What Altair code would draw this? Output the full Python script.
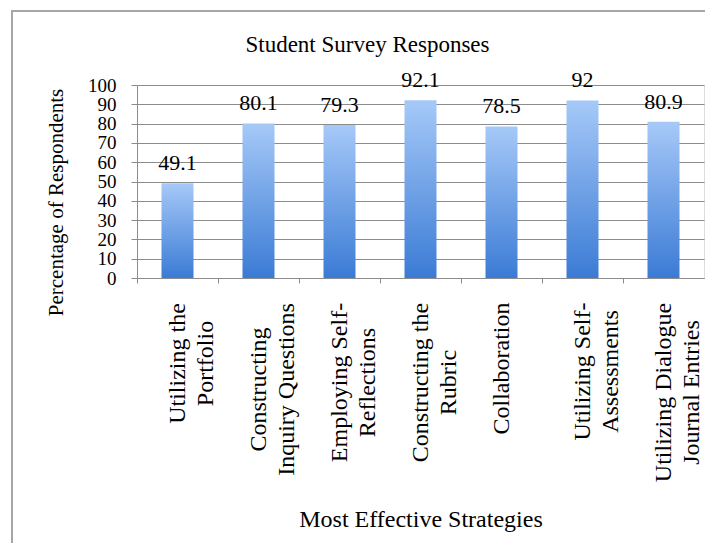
import json
import altair as alt
import pandas as pd

# ---- data ----
strategies = [
    "Utilizing the Portfolio",
    "Constructing Inquiry Questions",
    "Employing Self-Reflections",
    "Constructing the Rubric",
    "Collaboration",
    "Utilizing Self-Assessments",
    "Utilizing Dialogue Journal Entries",
]
label_lines = [
    ["Utilizing the", "Portfolio"],
    ["Constructing", "Inquiry Questions"],
    ["Employing Self-", "Reflections"],
    ["Constructing the", "Rubric"],
    ["Collaboration"],
    ["Utilizing Self-", "Assessments"],
    ["Utilizing Dialogue", "Journal Entries"],
]
percentages = [49.1, 80.1, 79.3, 92.1, 78.5, 92.0, 80.9]
value_labels = ["49.1", "80.1", "79.3", "92.1", "78.5", "92", "80.9"]
y_ticks = [0, 10, 20, 30, 40, 50, 60, 70, 80, 90, 100]

# ---- styling ----
FONT = "Liberation Serif"
GRAY = "#8c8c8c"
# per-label padding so that every rotated label block starts at the same distance
# below the axis while its lines stay centred on each other
label_pad = [80, 106, 99, 99, 85, 88, 109]

df = pd.DataFrame({"strategy": strategies, "pct": percentages, "label": value_labels})

label_expr = (
    json.dumps(label_lines)
    + "[indexof("
    + json.dumps(strategies)
    + ", datum.value)]"
)
pad_cond = {
    "condition": [
        {"test": "datum.value === " + json.dumps(s), "value": p}
        for s, p in zip(strategies, label_pad)
    ],
    "value": 90,
}

x_axis = alt.Axis(
    title="Most Effective Strategies",
    titleFont=FONT,
    titleFontSize=24,
    titleFontWeight="normal",
    titleColor="black",
    titleX=283.5,
    titleY=248,
    titleAlign="center",
    titleBaseline="alphabetic",
    labelExpr=label_expr,
    labelAngle=-90,
    labelAlign="center",
    labelBaseline="middle",
    labelFont=FONT,
    labelFontSize=24,
    labelLineHeight=28,
    labelColor="black",
    labelPadding=pad_cond,
    bandPosition=0,
    tickSize=5,
    tickColor=GRAY,
    domainColor=GRAY,
    grid=False,
    labelOverlap=False,
    labelBound=False,
    labelFlush=False,
)

y_axis = alt.Axis(
    values=y_ticks,
    title="Percentage of Respondents",
    titleFont=FONT,
    titleFontSize=21,
    titleFontWeight="normal",
    titleColor="black",
    titleAngle=-90,
    titleX=-81,
    titleY=117,
    titleAlign="center",
    titleBaseline="middle",
    labelFont=FONT,
    labelFontSize=19,
    labelColor="black",
    labelPadding=15,
    labelOverlap=False,
    labelFlush=False,
    tickSize=6,
    tickColor=GRAY,
    domainColor=GRAY,
    gridColor=GRAY,
    gridWidth=1,
)

x_enc = alt.X(
    "strategy:N",
    sort=strategies,
    scale=alt.Scale(paddingInner=0, paddingOuter=0),
    axis=x_axis,
)
y_enc = alt.Y("pct:Q", scale=alt.Scale(domain=[0, 100], nice=False), axis=y_axis)

bars = alt.Chart(df).mark_bar(
    size=32,
    color=alt.Gradient(
        gradient="linear",
        stops=[
            alt.GradientStop(color="#a6c9f8", offset=0),
            alt.GradientStop(color="#3b7bd5", offset=1),
        ],
        x1=0, x2=0, y1=0, y2=1,
    ),
).encode(x=x_enc, y=y_enc)

texts = alt.Chart(df).mark_text(
    font=FONT, fontSize=22, color="black", baseline="alphabetic", dy=-13
).encode(x=x_enc, y=y_enc, text="label:N")

frame = alt.Chart(pd.DataFrame({"f": [0]})).mark_rect(
    filled=False, stroke="#a6a6a6", strokeWidth=2
).encode(
    x=alt.value(-125), x2=alt.value(700), y=alt.value(-74), y2=alt.value(600)
)

chart = (
    alt.layer(frame, bars, texts)
    .properties(
        width=567,
        height=193,
        autosize=alt.AutoSizeParams(type="none"),
        padding={"left": 129, "top": 77, "right": 1, "bottom": 265},
        title=alt.Title(
            "Student Survey Responses",
            font=FONT,
            fontSize=23,
            fontWeight="normal",
            color="black",
            anchor="middle",
            baseline="alphabetic",
            dx=-53,
            dy=65,
            offset=0,
        ),
    )
    .configure_view(stroke=None)
    .configure(background="white")
)

chart.save("out.html", embed_options={"renderer": "svg", "actions": False})
